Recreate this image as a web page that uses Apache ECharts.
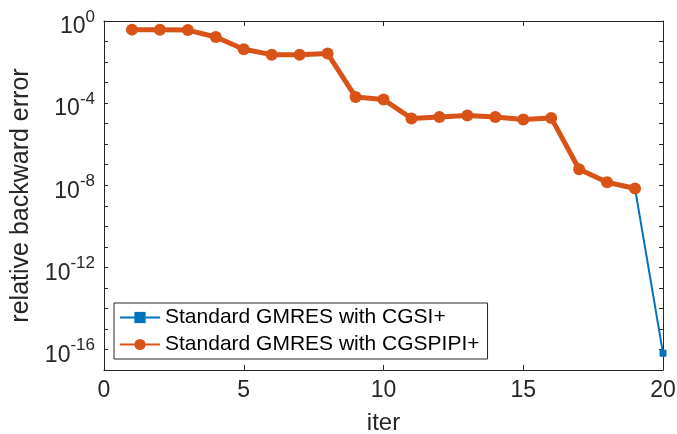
<!DOCTYPE html>
<html>
<head>
<meta charset="utf-8">
<script src="https://cdn.jsdelivr.net/npm/echarts@6/dist/echarts.min.js"></script>
<style>html,body{margin:0;padding:0;background:#fff}#c{width:677px;height:434px}</style>
</head>
<body>
<div id="c"></div>
<script>
var iters = [1,2,3,4,5,6,7,8,9,10,11,12,13,14,15,16,17,18,19,20];
var cgsi = [0.38,0.37,0.36,0.166,0.042,0.023,0.023,0.026,2.0e-4,1.5e-4,1.8e-5,2.1e-5,2.5e-5,2.1e-5,1.6e-5,1.9e-5,6.0e-8,1.4e-8,6.9e-9,6.6e-17];
var cgspipi = [0.38,0.37,0.36,0.166,0.042,0.023,0.023,0.026,2.0e-4,1.5e-4,1.8e-5,2.1e-5,2.5e-5,2.1e-5,1.6e-5,1.9e-5,6.0e-8,1.4e-8,6.9e-9];
var names = ['Standard GMRES with CGSI+','Standard GMRES with CGSPIPI+'];
var yLabelExps = [0,-4,-8,-12,-16];

var axCol = '#262626';
var ff = 'Liberation Sans, Arial, sans-serif';
function pairs(xs, ys){ return ys.map(function(v,i){ return [xs[i], v]; }); }

var chart = echarts.init(document.getElementById('c'));
chart.setOption({
  animation: false,
  backgroundColor: '#fff',
  grid: {left: 104, top: 21, right: 14, bottom: 64, containLabel: false, outerBoundsMode: 'none'},
  legend: {
    orient: 'vertical', left: 114, top: 303,
    data: names,
    backgroundColor: '#fff', borderColor: axCol, borderWidth: 1,
    padding: [4, 8, 4, 5], itemGap: 6, itemWidth: 40, itemHeight: 14,
    textStyle: {fontFamily: ff, fontSize: 21, color: '#000'}
  },
  xAxis: [{
    type: 'value', min: 0, max: 20, interval: 5,
    name: 'iter', nameLocation: 'middle', nameGap: 41,
    nameTextStyle: {fontFamily: ff, fontSize: 24, color: axCol},
    axisLine: {show: true, onZero: false, lineStyle: {color: axCol, width: 1}},
    axisTick: {show: true, inside: true, length: 5, lineStyle: {color: axCol}},
    axisLabel: {fontFamily: ff, fontSize: 23, color: axCol, margin: 9},
    splitLine: {show: false}
  },{
    type: 'value', min: 0, max: 20, interval: 5, position: 'top',
    axisLine: {show: true, onZero: false, lineStyle: {color: axCol, width: 1}},
    axisTick: {show: true, inside: true, length: 5, lineStyle: {color: axCol}},
    axisLabel: {show: false}, splitLine: {show: false}
  }],
  yAxis: [{
    type: 'log', logBase: 10, min: 1e-17, max: 1, interval: 1,
    name: 'relative backward error', nameLocation: 'middle', nameGap: 69,
    nameTextStyle: {fontFamily: ff, fontSize: 25, color: axCol},
    axisLine: {show: true, onZero: false, lineStyle: {color: axCol, width: 1}},
    axisTick: {show: true, inside: true, length: 4, lineStyle: {color: axCol}},
    axisLabel: {
      margin: 9, showMinLabel: true, showMaxLabel: true,
      formatter: function(v){
        var e = Math.round(Math.log10(v));
        if (yLabelExps.indexOf(e) < 0) return '';
        return '{b|10}{s|' + e + '}';
      },
      rich: {
        b: {fontFamily: ff, fontSize: 23, color: axCol, padding: [12,0,0,0]},
        s: {fontFamily: ff, fontSize: 17, color: axCol, padding: [0,0,8,0]}
      }
    },
    splitLine: {show: false}
  },{
    type: 'log', logBase: 10, min: 1e-17, max: 1, interval: 1, position: 'right',
    axisLine: {show: true, onZero: false, lineStyle: {color: axCol, width: 1}},
    axisTick: {show: true, inside: true, length: 4, lineStyle: {color: axCol}},
    axisLabel: {show: false}, splitLine: {show: false}
  }],
  series: [{
    name: names[0], type: 'line', data: pairs(iters, cgsi),
    xAxisIndex: 0, yAxisIndex: 0,
    symbol: 'rect', symbolSize: 6,
    lineStyle: {color: '#0072BD', width: 2},
    itemStyle: {color: '#0072BD', borderColor: '#0072BD'},
    z: 2
  },{
    name: names[1], type: 'line', data: pairs(iters, cgspipi),
    xAxisIndex: 0, yAxisIndex: 0,
    symbol: 'circle', symbolSize: 12,
    lineStyle: {color: '#D95319', width: 5},
    itemStyle: {color: '#D95319'},
    z: 3
  }]
});
</script>
</body>
</html>
